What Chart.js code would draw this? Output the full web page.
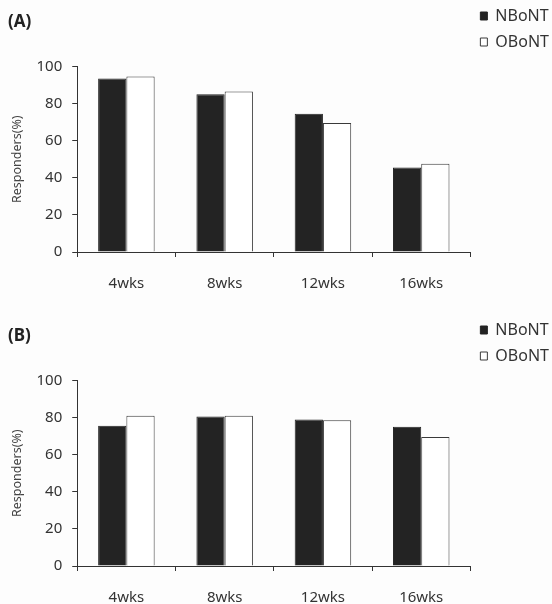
<!DOCTYPE html>
<html>
<head>
<meta charset="utf-8">
<script src="https://cdn.jsdelivr.net/npm/chart.js@4"></script>
<style>
    body { margin: 0; width: 552px; height: 604px; overflow: hidden; background: #fdfdfd; }
    canvas { position: absolute; left: 0; }
    #grafico-a { top: 0; }
    #grafico-b { top: 314px; }
</style>
</head>
<body>
<canvas id="grafico-a" width="552" height="313"></canvas>
<canvas id="grafico-b" width="552" height="313"></canvas>
<script>
const semanas = ["4wks", "8wks", "12wks", "16wks"];
const nbontA = [93.5, 85, 74.5, 45.5];
const obontA = [94.5, 86.5, 69.5, 47.5];
const nbontB = [75.5, 80.5, 79, 75];
const obontB = [81, 81, 78.5, 69.5];
const yMin = 0;
const yMax = 100;
const yPasso = 20;

const corEscura = "#232323";
const corTexto = "#333";

Chart.defaults.font.family = "'Noto Sans', sans-serif";
Chart.defaults.color = corTexto;

criarGrafico("#grafico-a", "(A)", nbontA, obontA);
criarGrafico("#grafico-b", "(B)", nbontB, obontB);

function criarGrafico(seletor, rotulo, valoresN, valoresO) {
    const ctx = document.querySelector(seletor);

    return new Chart(ctx, {
        type: "bar",
        data: {
            labels: semanas,
            datasets: [
                {
                    label: "NBoNT",
                    data: valoresN,
                    backgroundColor: corEscura,
                    borderColor: corEscura,
                    borderWidth: 1
                },
                {
                    label: "OBoNT",
                    data: valoresO,
                    backgroundColor: "#ffffff",
                    borderColor: "#3a3a3a",
                    borderWidth: 1
                }
            ]
        },
        options: {
            responsive: false,
            animation: false,
            layout: {
                padding: { top: -2, left: 8, right: -7, bottom: 2 }
            },
            datasets: {
                bar: {
                    barPercentage: 1,
                    categoryPercentage: 0.575
                }
            },
            plugins: {
                tooltip: { enabled: false },
                title: {
                    display: true,
                    text: rotulo,
                    align: "start",
                    color: "#222",
                    font: { size: 17, weight: "bold" },
                    padding: { top: 14, bottom: 34 }
                },
                legend: {
                    position: "right",
                    align: "start",
                    labels: {
                        boxWidth: 7,
                        boxHeight: 8,
                        padding: 10,
                        color: corTexto,
                        font: { size: 16 }
                    }
                }
            },
            scales: {
                x: {
                    grid: {
                        drawOnChartArea: false,
                        tickLength: 5,
                        color: "#333"
                    },
                    border: { color: "#333", width: 1 },
                    ticks: {
                        padding: 18,
                        color: corTexto,
                        font: { size: 15 }
                    }
                },
                y: {
                    min: yMin,
                    max: yMax,
                    grid: {
                        drawOnChartArea: false,
                        tickLength: 5,
                        color: "#333"
                    },
                    border: { color: "#333", width: 1 },
                    ticks: {
                        stepSize: yPasso,
                        padding: 10,
                        color: corTexto,
                        font: { size: 15 }
                    },
                    title: {
                        display: true,
                        text: "Responders(%)",
                        color: "#444",
                        font: { size: 12.5 },
                        padding: { top: 2, bottom: 1.5 }
                    }
                }
            }
        }
    });
}
</script>
</body>
</html>
